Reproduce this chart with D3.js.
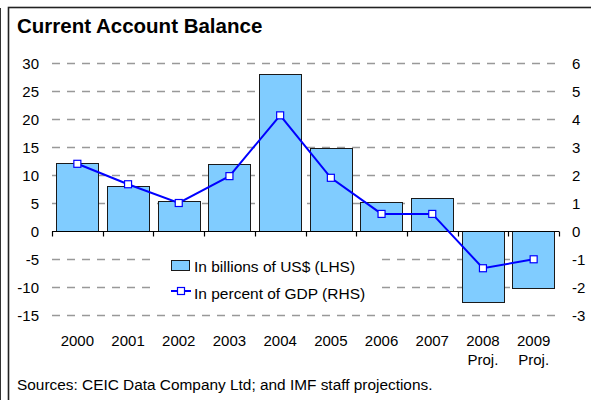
<!DOCTYPE html>
<html>
<head>
<meta charset="utf-8">
<script src="https://cdn.jsdelivr.net/npm/d3@7"></script>
<style>
  body { margin: 0; background: #fff; }
  text { font-family: "Liberation Sans", Arial, sans-serif; fill: #000; }
</style>
</head>
<body>
<div id="chart"></div>
<script>
// Chart data
const years = ["2000", "2001", "2002", "2003", "2004", "2005", "2006", "2007", "2008", "2009"];
const subLabels = ["", "", "", "", "", "", "", "", "Proj.", "Proj."];
const usdBillions = [12.2, 8.0, 5.4, 11.9, 28.1, 14.9, 5.2, 5.9, -12.7, -10.2];
const pctGdp = [2.4, 1.67, 1.0, 1.96, 4.13, 1.9, 0.61, 0.61, -1.33, -1.01];
const leftTicks = [-15, -10, -5, 0, 5, 10, 15, 20, 25, 30];
const rightTicks = [-3, -2, -1, 0, 1, 2, 3, 4, 5, 6];

const W = 591, H = 400;
const plot = { left: 52, right: 559, top: 63, bottom: 315 };

const svg = d3.select("#chart")
  .append("svg")
  .attr("width", W)
  .attr("height", H);

// Frame
svg.append("line")
  .attr("x1", 0.5).attr("x2", 0.5).attr("y1", 8).attr("y2", H)
  .attr("stroke", "#333").attr("stroke-width", 1);
svg.append("rect")
  .attr("x", 8.5).attr("y", 7.5)
  .attr("width", 620).attr("height", 420)
  .attr("fill", "none").attr("stroke", "#222").attr("stroke-width", 1.6);

// Title
svg.append("text")
  .attr("x", 17).attr("y", 33)
  .style("font-size", "20.5px").style("font-weight", "bold")
  .text("Current Account Balance");

// Scales
const xBand = d3.scaleBand()
  .domain(years)
  .range([plot.left, plot.right])
  .paddingInner(0.165)
  .paddingOuter(0.0825);

const xCat = d3.scaleBand()
  .domain(years)
  .range([plot.left, plot.right]);

const yLeft = d3.scaleLinear().domain([-15, 30]).range([plot.bottom, plot.top]);
const yRight = d3.scaleLinear().domain([-3, 6]).range([plot.bottom, plot.top]);

// Dashed gridlines
svg.append("g")
  .selectAll("line")
  .data(leftTicks.filter(d => d !== 0))
  .enter()
  .append("line")
  .attr("x1", plot.left).attr("x2", plot.right)
  .attr("y1", d => Math.round(yLeft(d)) + 0.5)
  .attr("y2", d => Math.round(yLeft(d)) + 0.5)
  .attr("stroke", "#999")
  .attr("stroke-width", 1.3)
  .attr("stroke-dasharray", "8,7");

// Left axis labels
svg.append("g")
  .selectAll("text")
  .data(leftTicks)
  .enter()
  .append("text")
  .attr("x", 39)
  .attr("y", d => yLeft(d) + 5.5)
  .attr("text-anchor", "end")
  .style("font-size", "15px")
  .text(d => d);

// Right axis labels
svg.append("g")
  .selectAll("text")
  .data(rightTicks)
  .enter()
  .append("text")
  .attr("x", 572)
  .attr("y", d => yRight(d) + 5.5)
  .attr("text-anchor", "start")
  .style("font-size", "15px")
  .text(d => d);

// Bars
svg.append("g")
  .selectAll(".bar")
  .data(usdBillions)
  .enter()
  .append("rect")
  .attr("class", "bar")
  .attr("x", (d, i) => Math.round(xBand(years[i])) + 0.5)
  .attr("y", d => Math.round(yLeft(Math.max(0, d))) + 0.5)
  .attr("width", Math.round(xBand.bandwidth()))
  .attr("height", d => Math.abs(Math.round(yLeft(d)) - Math.round(yLeft(0))))
  .attr("fill", "#80CCFF")
  .attr("stroke", "#1a1a1a")
  .attr("stroke-width", 1);

// Zero axis with category ticks
const y0 = Math.round(yLeft(0)) + 0.5;
svg.append("line")
  .attr("x1", plot.left).attr("x2", plot.right)
  .attr("y1", y0).attr("y2", y0)
  .attr("stroke", "#000").attr("stroke-width", 1.2);

const tickXs = years.map(y => xCat(y)).concat([plot.right]);
svg.append("g")
  .selectAll("line")
  .data(tickXs)
  .enter()
  .append("line")
  .attr("x1", d => Math.round(d) + 0.5).attr("x2", d => Math.round(d) + 0.5)
  .attr("y1", y0).attr("y2", y0 + 5)
  .attr("stroke", "#000").attr("stroke-width", 1.2);

// Category labels
const xLabels = svg.append("g")
  .selectAll("text")
  .data(years)
  .enter()
  .append("text")
  .attr("text-anchor", "middle")
  .style("font-size", "15px");
xLabels.append("tspan")
  .attr("x", d => xCat(d) + xCat.bandwidth() / 2)
  .attr("y", 346)
  .text(d => d);
xLabels.append("tspan")
  .attr("x", d => xCat(d) + xCat.bandwidth() / 2)
  .attr("y", 365)
  .text((d, i) => subLabels[i]);

// Legend (white box hides gridlines)
const legend = svg.append("g");
legend.append("rect")
  .attr("x", 154).attr("y", 250)
  .attr("width", 221).attr("height", 52)
  .attr("fill", "#fff");
legend.append("rect")
  .attr("x", 171.5).attr("y", 260.5)
  .attr("width", 18).attr("height", 10)
  .attr("fill", "#80CCFF").attr("stroke", "#1a1a1a");
legend.append("text")
  .attr("x", 194).attr("y", 272)
  .style("font-size", "15.5px")
  .text("In billions of US$ (LHS)");
legend.append("line")
  .attr("x1", 171).attr("x2", 191)
  .attr("y1", 291).attr("y2", 291)
  .attr("stroke", "#0000FF").attr("stroke-width", 2);
legend.append("rect")
  .attr("x", 177.5).attr("y", 287.5)
  .attr("width", 7).attr("height", 7)
  .attr("fill", "#fff").attr("stroke", "#0000FF").attr("stroke-width", 1.2);
legend.append("text")
  .attr("x", 194).attr("y", 299)
  .style("font-size", "15.5px")
  .text("In percent of GDP (RHS)");

// GDP line
const cx = i => xCat(years[i]) + xCat.bandwidth() / 2;
const line = d3.line()
  .x((d, i) => cx(i))
  .y(d => yRight(d));

svg.append("path")
  .datum(pctGdp)
  .attr("d", line)
  .attr("fill", "none")
  .attr("stroke", "#0000FF")
  .attr("stroke-width", 2);

svg.append("g")
  .selectAll("rect")
  .data(pctGdp)
  .enter()
  .append("rect")
  .attr("x", (d, i) => cx(i) - 3.5)
  .attr("y", d => yRight(d) - 3.5)
  .attr("width", 7).attr("height", 7)
  .attr("fill", "#fff")
  .attr("stroke", "#0000FF")
  .attr("stroke-width", 1.2);

// Source note
svg.append("text")
  .attr("x", 17).attr("y", 390)
  .style("font-size", "15.4px")
  .text("Sources: CEIC Data Company Ltd; and IMF staff projections.");
</script>
</body>
</html>
